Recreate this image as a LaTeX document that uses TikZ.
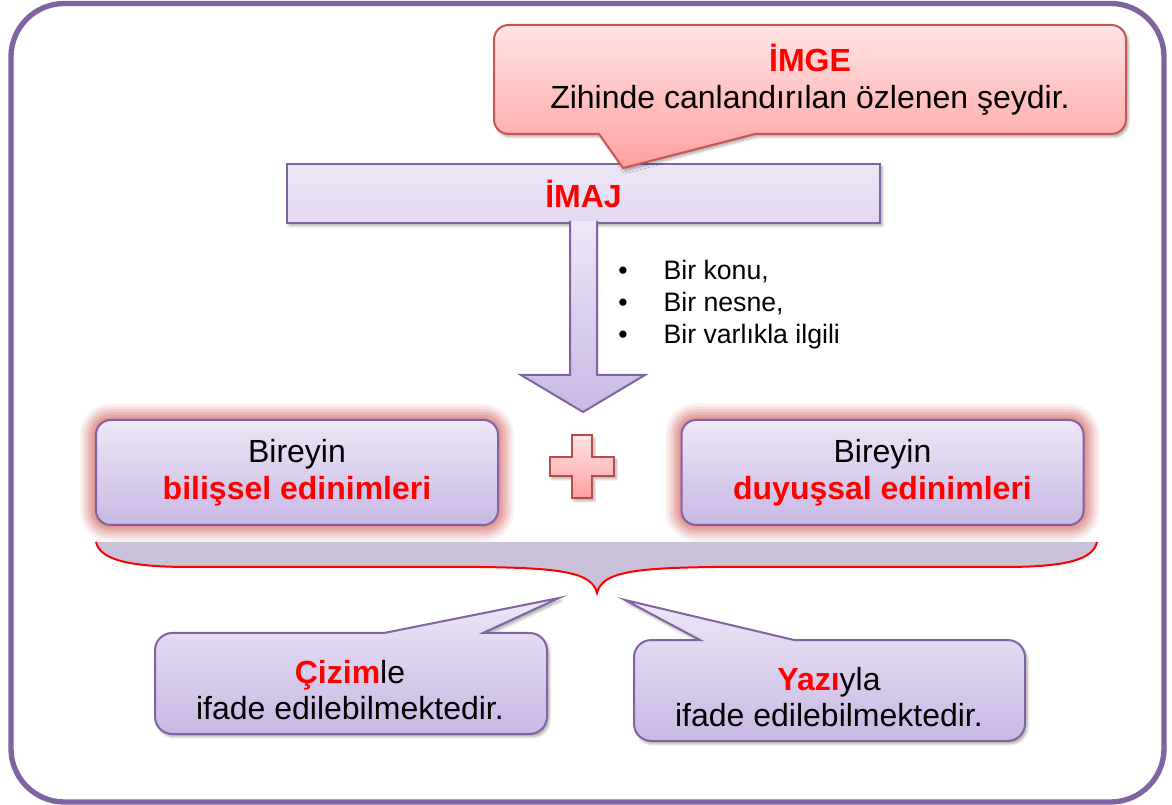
\documentclass[tikz,border=0pt]{standalone}
\usepackage{fontspec}
\setmainfont{Liberation Sans}
\usepackage{xcolor}
\usetikzlibrary{shadows.blur}

\definecolor{frameviolet}{RGB}{128,100,162}
\definecolor{lavtop}{RGB}{237,231,247}
\definecolor{lavmid}{RGB}{226,216,240}
\definecolor{lavbot}{RGB}{200,184,228}
\definecolor{pinktop}{RGB}{255,228,228}
\definecolor{pinkbot}{RGB}{255,160,160}
\definecolor{pinkedge}{RGB}{200,85,82}
\definecolor{braceband}{RGB}{203,192,218}
\definecolor{glowred}{RGB}{205,70,70}

\newcommand{\vurgu}[1]{\textcolor{red}{\bfseries #1}}

\tikzset{
  lavbox/.style={draw=frameviolet, line width=1.5pt, top color=lavtop, bottom color=lavbot},
  pinkbox/.style={draw=pinkedge, line width=1.5pt, top color=pinktop, bottom color=pinkbot},
  txt/.style={font=\fontsize{24}{27.6}\selectfont, align=center, inner sep=0pt},
  softshadow/.style={blur shadow={shadow xshift=1.5pt, shadow yshift=-2pt, shadow blur steps=6, shadow opacity=35}},
  glow/.style={preaction={draw=glowred, draw opacity=.08, line width=24pt},
               preaction={draw=glowred, draw opacity=.10, line width=20pt},
               preaction={draw=glowred, draw opacity=.12, line width=16pt},
               preaction={draw=glowred, draw opacity=.14, line width=12pt},
               preaction={draw=glowred, draw opacity=.16, line width=8pt},
               preaction={draw=glowred, draw opacity=.18, line width=4pt}}
}

\begin{document}
\begin{tikzpicture}[x=0.75pt,y=0.75pt,yscale=-1,xscale=1]
		\useasboundingbox (0,0) rectangle (1172,805);

		% outer frame
		\draw [frameviolet, line width=4pt, rounded corners=40pt] (11,3.5) rectangle (1164,802);

		% imaj box and block arrow
		\node [lavbox, bottom color=lavmid, softshadow, txt, minimum width=444.75pt, minimum height=44.25pt] (imaj) at (583.5,193.5) {\vurgu{İMAJ}};
		\draw [lavbox] (570,221) -- (570,375) -- (521,375) -- (583,412) -- (645,375) -- (597,375) -- (597,221);

		\node [anchor=west, inner sep=0pt, font=\fontsize{20}{24}\selectfont] (liste) at (618,305)
			{\begin{tabular}{@{}l@{\hspace{27pt}}l@{}}\textbullet & Bir konu,\\ \textbullet & Bir nesne,\\ \textbullet & Bir varlıkla ilgili\end{tabular}};

		% imge callout
		\draw [pinkbox, softshadow] (623,168) -- (755,134) -- (1090,134) [rounded corners=11pt] -- (1126,134) -- (1126,25) -- (494,25) -- (494,134) -- (540,134) [sharp corners] -- (599,134) -- cycle;
		\node [txt] (imge) at (810,80) {\vurgu{İMGE}\\Zihinde canlandırılan özlenen şeydir.};

		% two acquisitions
		\node [lavbox, glow, rounded corners=11pt, txt, minimum width=301.5pt, minimum height=78.75pt] (bilis) at (297,472.5) {Bireyin\\\vurgu{bilişsel edinimleri}};
		\node [lavbox, glow, rounded corners=11pt, txt, minimum width=301.5pt, minimum height=78.75pt] (duyus) at (882.5,472.5) {Bireyin\\\vurgu{duyuşsal edinimleri}};

		\draw [pinkbox, draw=pinkedge!90!black, softshadow] (572,435) -- (592,435) -- (592,457) -- (614,457) -- (614,476) -- (592,476) -- (592,498) -- (572,498) -- (572,476) -- (550,476) -- (550,457) -- (572,457) -- cycle;

		% brace
		\fill [braceband] (96,542) -- (1097,542) .. controls (1093,560) and (1065,567) .. (1004,567) -- (714,567) .. controls (634,568) and (602,572) .. (597,593) .. controls (592,572) and (560,568) .. (480,567) -- (190,567) .. controls (130,567) and (100,560) .. (96,542) -- cycle;
		\draw [red, line width=1.5pt] (1097,542) .. controls (1093,560) and (1065,567) .. (1004,567) -- (714,567) .. controls (634,568) and (602,572) .. (597,593) .. controls (592,572) and (560,568) .. (480,567) -- (190,567) .. controls (130,567) and (100,560) .. (96,542);

		% bottom callouts
		\draw [lavbox, softshadow] (559,598) -- (483,633) -- (520,633) [rounded corners=13pt] -- (547,633) -- (547,734) -- (155,734) -- (155,633) -- (340,633) [sharp corners] -- (384,633) -- cycle;
		\node [txt] (cizim) at (350,690) {\vurgu{Çizim}le\\ifade edilebilmektedir.};

		\draw [lavbox, softshadow] (625,600) -- (794,640) -- (990,640) [rounded corners=13pt] -- (1025,640) -- (1025,741) -- (634,741) -- (634,640) -- (670,640) [sharp corners] -- (700,640) -- cycle;
		\node [txt] (yazi) at (829,697) {\vurgu{Yazı}yla\\ifade edilebilmektedir.};
\end{tikzpicture}
\end{document}
